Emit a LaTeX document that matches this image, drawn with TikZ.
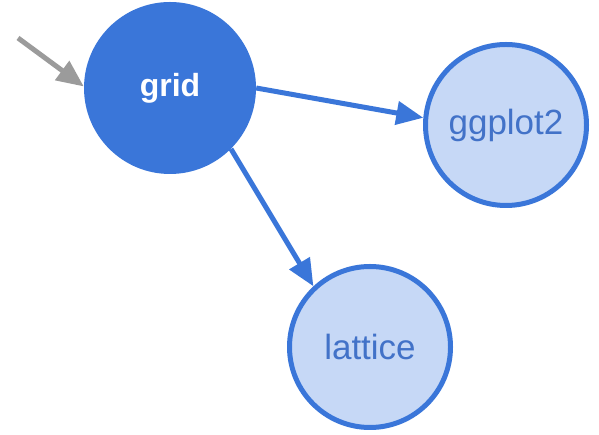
\documentclass[tikz,border=0pt]{standalone}
\usepackage{fontspec}
\setmainfont{Liberation Sans}
\usetikzlibrary{arrows.meta,positioning}
\definecolor{pkgblue}{RGB}{58,118,217}
\definecolor{pkglight}{RGB}{198,216,246}
\definecolor{pkgtext}{RGB}{66,114,200}
\definecolor{pkggray}{RGB}{155,155,155}

\begin{document}
\begin{tikzpicture}[x=1pt,y=1pt,
    root/.style={circle, fill=pkgblue, minimum size=172pt, inner sep=0pt,
        text=white, font=\fontsize{32}{36}\selectfont\bfseries},
    dep/.style={circle, fill=pkglight, draw=pkgblue, line width=5pt,
        minimum size=161pt, inner sep=0pt, text=pkgtext,
        font=\fontsize{35}{40}\selectfont},
    link/.style={-{Triangle[length=27pt,width=23pt]}, line width=5pt, draw=pkgblue}]
                \useasboundingbox (0,0) rectangle (599,435);
                \node[root] (grid) at (170,347) {grid};
                \node[dep] (ggplot2) at (506,310) {ggplot2};
                \node[dep] (lattice) at (370,88) {lattice};
                \coordinate (src) at (18,397);
                \draw[-{Triangle[length=27pt,width=23pt]}, line width=5pt, pkggray] (src) -- (grid.179);
                \draw[link] (grid.0) -- (ggplot2.175);
                \draw[link] (grid.-45) -- (lattice.133);
            \end{tikzpicture}
\end{document}
